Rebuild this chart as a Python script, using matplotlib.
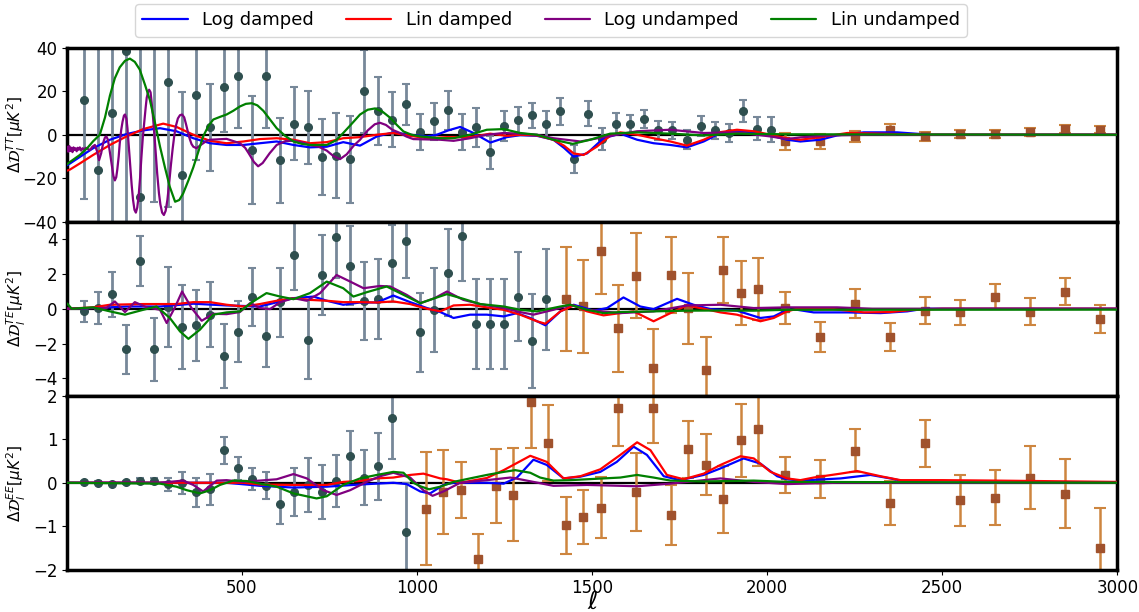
import matplotlib
matplotlib.use("Agg")
import matplotlib.pyplot as plt

# ---------------- data: binned residuals ----------------
# TT, low-l (grey dots)
tt_lo_ell = [50, 90, 130, 170, 210, 250, 290, 330, 370, 410, 450, 490, 530, 570, 610,
             650, 690, 730, 770, 810, 850, 890, 930, 970, 1010, 1050, 1090, 1130, 1170,
             1210, 1250, 1290, 1330, 1370, 1410, 1450, 1490, 1530, 1570, 1610, 1650,
             1690, 1730, 1770, 1810, 1850, 1890, 1930, 1970, 2010]
tt_lo_val = [16.0, -16.4, 9.8, 38.5, -28.5, 45.0, 24.4, -18.4, 18.2, 3.4, 22.1, 27.1, -7.0,
             26.8, -11.7, 5.1, 3.4, -10.1, -9.7, -11.2, 19.9, 10.9, 7.0, 14.0, 1.2, 6.2,
             11.2, 1.2, 3.4, -8.1, 3.9, 6.7, 9.0, 5.1, 10.9, -11.2, 9.7, -1.9, 5.1, 5.1,
             7.2, 2.0, 2.0, -2.3, 3.9, 2.0, 0.8, 10.9, 2.8, 2.3]
tt_lo_err = [45.6, 56, 55, 80, 70, 75.8, 57.6, 38.2, 30, 20, 21, 24, 25, 23.7, 19.5,
             16.7, 16.7, 17.4, 19.5, 20, 19, 15.6, 12.5, 9.5, 8.4, 8.6, 9, 8.4, 8.9,
             7.6, 6.9, 6.1, 5.8, 6.0, 6.2, 6.4, 5.6, 4.9, 4.7, 4.2, 4.0, 4.2, 4.0, 4.3,
             4.5, 4.0, 4.3, 5.0, 5.3, 5.8]
# TT, high-l (brown squares)
tt_hi_ell = [2050, 2150, 2250, 2350, 2450, 2550, 2650, 2750, 2850, 2950]
tt_hi_val = [-3.1, -3.1, -0.8, 2.3, -0.8, 0.3, 0.3, 1.2, 2.6, 2.3]
tt_hi_err = [3.9, 3.6, 2.6, 2.5, 2.1, 2.0, 2.0, 1.9, 1.9, 1.7]

# TE
te_lo_ell = [50, 90, 130, 170, 210, 250, 290, 330, 370, 410, 450, 490, 530, 570, 610,
             650, 690, 730, 770, 810, 850, 890, 930, 970, 1010, 1050, 1090, 1130, 1170,
             1210, 1250, 1290, 1330, 1370]
te_lo_val = [-0.15, 0.04, 0.82, -2.34, 2.74, -2.34, 0.1, -1.05, -0.95, -0.34, -2.7, -1.31,
             0.67, -1.54, 0.36, 3.09, -1.77, 1.94, 4.13, 2.46, 0.42, 0.57, 2.61, 3.9,
             -1.35, -0.06, 2.08, 4.19, -0.88, -0.88, -0.88, 0.7, -1.87, 0.55]
te_lo_err = [0.6, 0.9, 1.3, 1.43, 1.46, 1.8, 2.3, 2.4, 2.05, 1.85, 1.83, 1.73, 1.67, 1.8,
             2.0, 2.0, 2.27, 2.3, 2.34, 2.27, 2.24, 2.3, 2.23, 2.13, 2.26, 2.4, 2.5, 2.57,
             2.6, 2.6, 2.6, 2.57, 2.7, 2.9]
te_hi_ell = [1425, 1475, 1525, 1575, 1625, 1675, 1725, 1775, 1825, 1875, 1925, 1975,
             2050, 2150, 2250, 2350, 2450, 2550, 2650, 2750, 2850, 2950]
te_hi_val = [0.57, 0.13, 3.31, -1.12, 1.89, -3.39, 1.92, 0.04, -3.52, 2.23, 0.9, 1.12,
             0.04, -1.62, 0.29, -1.62, -0.11, -0.21, 0.7, -0.17, 0.99, -0.61]
te_hi_err = [3.0, 2.69, 2.47, 2.5, 2.45, 2.23, 2.19, 2.04, 1.9, 1.89, 1.83, 1.79,
             0.91, 0.86, 0.82, 0.79, 0.76, 0.73, 0.7, 0.78, 0.78, 0.81]

# EE
ee_lo_ell = [50, 90, 130, 170, 210, 250, 290, 330, 370, 410, 450, 490, 530, 570, 610,
             650, 690, 730, 770, 810, 850, 890, 930, 970]
ee_lo_val = [0.02, 0.0, -0.03, 0.01, 0.05, 0.04, -0.03, 0.0, -0.22, -0.15, 0.75, 0.33,
             0.08, -0.07, -0.49, -0.21, -0.05, -0.22, 0.04, 0.61, 0.12, 0.38, 1.48, -1.13]
ee_lo_err = [0.03, 0.03, 0.03, 0.04, 0.05, 0.07, 0.15, 0.25, 0.33, 0.36, 0.31, 0.27,
             0.25, 0.31, 0.45, 0.56, 0.63, 0.62, 0.59, 0.59, 0.64, 0.77, 0.94, 1.12]
ee_hi_ell = [1025, 1075, 1125, 1175, 1225, 1275, 1325, 1375, 1425, 1475, 1525, 1575,
             1625, 1675, 1725, 1775, 1825, 1875, 1925, 1975,
             2050, 2150, 2250, 2350, 2450, 2550, 2650, 2750, 2850, 2950]
ee_hi_val = [-0.6, -0.21, -0.17, -1.75, -0.08, -0.28, 1.86, 0.92, -0.98, -0.78, -0.57,
             1.71, -0.22, 1.72, -0.74, 0.77, 0.41, -0.38, 0.98, 1.23,
             0.18, 0.08, 0.74, -0.46, 0.91, -0.4, -0.34, 0.12, -0.25, -1.49]
ee_hi_err = [1.3, 0.97, 0.64, 0.58, 0.85, 1.07, 1.07, 0.87, 0.65, 0.62, 0.71, 0.87,
             0.9, 0.8, 0.7, 0.66, 0.7, 0.77, 0.84, 0.84,
             0.41, 0.44, 0.49, 0.51, 0.54, 0.59, 0.64, 0.72, 0.8, 0.9]

# ---------------- model curves ----------------
# TT
tt_logd_ell = [2, 10, 40, 76, 124, 171, 219, 267, 314, 362, 410, 457, 505, 552, 600, 648, 695,
               743, 790, 838, 886, 933, 981, 1029, 1057, 1090, 1124, 1162, 1210, 1257,
               1295, 1343, 1390, 1420, 1448, 1486, 1533, 1581, 1629, 1676, 1724, 1771,
               1819, 1867, 1914, 1962, 2010, 2057, 2095, 2152, 2200, 2276, 2371, 2467, 3000]
tt_logd = [-14.0, -13.2, -10.0, -6.2, -2.3, 0.3, 2.0, 3.0, 1.6, -1.6, -3.9, -4.7, -4.7, -3.9,
           -3.1, -4.7, -5.8, -5.5, -3.4, -5.0, -0.8, 1.1, 0.0, -0.8, 0.0, 2.0, 3.6, 0.8,
           -3.6, -1.1, -0.2, -0.5, -2.3, -6.0, -10.1, -8.6, -1.6, 0.5, -2.3, -3.9, -4.7,
           -5.8, -3.1, 0.8, 1.6, 1.1, -0.3, -2.3, -3.1, -2.3, -0.3, 1.1, 1.1, 0.0, 0.0]

tt_lind_ell = [2, 10, 40, 76, 124, 171, 219, 276, 314, 362, 410, 457, 505, 552, 600, 648, 695,
               743, 790, 838, 886, 933, 981, 1029, 1086, 1152, 1210, 1257, 1295, 1343,
               1390, 1420, 1448, 1476, 1514, 1552, 1581, 1629, 1676, 1724, 1771, 1819,
               1867, 1914, 1962, 2010, 2057, 2095, 2152, 2229, 2324, 2450, 3000]
tt_lind = [-16.5, -16.0, -13.0, -9.3, -4.7, -0.8, 2.6, 5.1, 3.6, 0.0, -2.8, -3.9, -3.1, -2.0,
           -1.6, -2.3, -3.9, -3.4, -1.6, -1.1, 0.0, 0.8, -0.5, -1.6, -1.1, -1.1, 0.5,
           -0.5, 0.0, -0.3, -2.3, -5.0, -8.6, -9.3, -5.5, -0.5, 1.1, 0.0, -1.6, -3.1,
           -5.0, -2.3, 1.2, 2.3, 1.6, 0.0, -1.6, -2.3, -1.1, 0.8, 0.5, 0.0, 0.0]

tt_logu_ell = [2, 5, 8, 11, 14, 17, 20, 23, 26, 29, 32, 35, 38, 42, 46, 50, 55, 60, 67,
               74, 81, 87, 93, 99, 103, 106, 110, 114, 118, 121, 126, 130, 134, 138, 142,
               145, 149, 152, 156, 160, 164, 167, 171, 174, 178, 182, 186, 190, 194, 198,
               202, 206, 210, 214, 218, 222, 226, 229, 233, 236, 240, 243, 247, 251, 255,
               259, 264, 268, 273, 278, 283, 288, 293, 298, 303, 308, 313, 318, 324, 330,
               336, 341, 347, 352, 357, 362, 371, 385, 400, 410, 457, 495, 510, 520, 535,
               547, 560, 580, 600, 625, 648, 672, 695, 720, 743, 762, 781, 800, 820, 838,
               860, 880, 895, 912, 930, 952, 970, 990, 1067, 1105, 1152, 1200, 1248, 1295,
               1343, 1390, 1467, 1533, 1581, 1629, 1724, 1819, 1914, 2010, 2057, 2095,
               2181, 2300, 3000]
tt_logu = [-5.5, -7.8, -5.2, -7.5, -6.0, -8.0, -5.8, -7.0, -6.2, -7.6, -6.0, -6.9, -5.8,
           -7.3, -6.2, -6.8, -6.0, -6.5, -7.0, -5.5, -4.7, -7.5, -11.7, -8.5, -5.2, -3.0,
           -1.2, -0.8, -2.2, -5.0, -10.5, -15.0, -19.0, -21.0, -19.5, -16.0, -10.0, -4.0,
           2.0, 6.0, 8.8, 9.3, 7.5, 3.0, -5.5, -14.0, -23.0, -30.0, -34.5, -35.8, -33.5,
           -28.0, -20.0, -10.0, -1.0, 6.0, 12.5, 17.0, 19.8, 20.7, 19.5, 15.0, 8.0, 0.0,
           -9.0, -18.0, -27.0, -32.0, -35.8, -36.9, -35.0, -30.0, -22.5, -14.0, -6.5, 0.0,
           4.5, 7.5, 9.0, 9.3, 8.0, 5.0, 1.0, -2.0, -4.3, -5.5, -6.2, -4.5, -2.8, -2.3,
           -1.9, -3.9, -6.0, -8.5, -12.5, -14.5, -13.0, -8.5, -4.7, -2.9, -2.8, -3.5,
           -4.7, -5.5, -7.3, -9.8, -11.2, -9.0, -5.0, -2.3, 2.0, 4.8, 5.5, 4.5, 2.3, 0.8,
           -0.8, -2.0, -2.3, -2.8, -1.6, 0.0, 0.8, 0.5, 0.0, -1.6, -3.1, -1.1, 0.3, 1.6,
           2.3, 0.8, 1.1, -0.8, -2.0, -1.2, -0.3, 0.0, 0.0]

tt_linu_ell = [2, 10, 38, 60, 76, 95, 110, 124, 138, 152, 167, 181, 195, 209, 224, 238,
               252, 267, 281, 295, 310, 322, 333, 348, 362, 376, 390, 405, 419, 438, 457,
               476, 495, 512, 529, 545, 562, 581, 600, 624, 648, 672, 695, 743, 770, 790,
               814, 838, 860, 881, 903, 924, 943, 962, 985, 1010, 1067, 1105, 1152, 1200,
               1248, 1295, 1343, 1390, 1445, 1495, 1552, 1629, 1724, 1819, 1914, 2057, 3000]
tt_linu = [-13.5, -12.5, -9.3, -6.0, -3.0, 0.0, 8.0, 18.0, 26.0, 31.0, 34.0, 35.0, 33.5,
           30.0, 23.0, 16.0, 6.0, -5.5, -15.0, -24.0, -30.8, -30.0, -27.0, -21.0, -15.0,
           -8.0, -0.8, 4.0, 7.0, 8.2, 9.3, 11.0, 13.0, 14.2, 14.5, 13.5, 11.0, 7.0, 3.0,
           -0.5, -3.1, -4.2, -4.7, -4.7, -2.5, 0.8, 5.0, 9.3, 11.5, 12.1, 10.5, 7.8, 4.5,
           1.5, 0.0, -0.8, -1.6, -1.6, 0.0, 2.3, 2.6, 0.8, 0.0, -2.3, -4.2, -2.3, 0.5,
           1.1, 0.5, -0.3, 0.5, 0.2, 0.0]

# TE
te_logd_ell = [2, 57, 124, 171, 267, 362, 457, 552, 648, 705, 743, 790, 838, 886, 933,
               981, 1029, 1067, 1105, 1152, 1200, 1248, 1286, 1324, 1367, 1410, 1448,
               1505, 1543, 1590, 1638, 1676, 1743, 1790, 1838, 1914, 1981, 2019, 2057,
               2086, 2133, 2229, 2324, 2400, 2448, 3000]
te_logd = [0.0, 0.04, 0.08, 0.13, 0.13, 0.29, 0.19, 0.13, 0.61, 0.7, 0.46, 0.23, 0.36,
           0.36, 0.76, 0.38, 0.04, -0.19, -0.53, -0.34, -0.34, -0.44, -0.25, -0.53, -0.95,
           -0.15, 0.23, -0.11, 0.04, 0.65, 0.13, -0.02, 0.57, 0.23, -0.02, -0.11, -0.53,
           -0.44, -0.06, -0.06, -0.21, -0.21, -0.25, -0.15, 0.0, 0.0]

te_lind_ell = [2, 76, 124, 219, 314, 362, 410, 457, 505, 552, 600, 648, 695, 743, 790,
               838, 886, 933, 981, 1029, 1067, 1105, 1152, 1200, 1248, 1295, 1343, 1367,
               1410, 1448, 1486, 1533, 1581, 1619, 1676, 1724, 1771, 1819, 1867, 1914,
               1981, 2019, 2057, 2086, 2181, 2276, 2352, 2419, 2500, 3000]
te_lind = [0.0, 0.08, 0.23, 0.27, 0.27, 0.38, 0.38, 0.23, 0.13, 0.27, 0.46, 0.61, 0.51,
           0.46, 0.38, 0.38, 0.36, 0.42, 0.27, 0.0, -0.15, 0.19, 0.23, 0.08, -0.06, -0.34,
           -0.72, -0.86, -0.15, 0.19, -0.15, -0.38, -0.25, -0.15, -0.72, -0.25, 0.19, 0.0,
           -0.21, -0.34, -0.72, -0.53, -0.15, 0.0, 0.0, -0.21, -0.19, -0.06, 0.0, 0.0]

te_logu_ell = [2, 76, 114, 138, 167, 195, 229, 267, 286, 310, 330, 357, 386, 419, 457,
               495, 524, 552, 581, 610, 648, 686, 724, 771, 810, 848, 895, 924, 971, 1010,
               1050, 1086, 1133, 1181, 1248, 1295, 1333, 1390, 1438, 1486, 1581, 1676,
               1771, 1867, 1962, 2057, 2200, 2300, 3000]
te_logu = [0.0, 0.04, 0.04, 0.42, -0.19, 0.38, 0.08, -0.06, -0.82, 0.1, 0.99, 0.04,
           -0.69, -0.29, -0.31, -0.19, 0.32, 0.04, -0.02, 0.38, 0.61, 0.46, 0.9, 1.94,
           1.56, 1.18, 1.31, 1.28, 0.8, 0.32, 0.6, 0.99, 0.51, 0.27, 0.04, -0.19, -0.34,
           -0.06, 0.23, -0.06, -0.25, -0.15, 0.19, 0.23, 0.04, 0.08, 0.08, 0.0, 0.0]

te_linu_ell = [2, 15, 76, 124, 167, 219, 257, 295, 324, 348, 381, 419, 457, 495, 533,
               571, 610, 648, 695, 743, 790, 819, 857, 914, 962, 1010, 1050, 1086, 1133,
               1181, 1248, 1295, 1343, 1410, 1438, 1486, 1533, 1581, 1676, 1771, 1867,
               1962, 2057, 3000]
te_linu = [0.3, 0.0, 0.08, -0.15, -0.34, -0.06, 0.13, -0.53, -1.3, -1.73, -1.2, -0.34,
           -0.21, -0.15, 0.42, 0.9, 0.7, 0.55, 0.9, 1.56, 1.18, 0.7, 0.95, 1.28, 0.8, 0.32,
           0.6, 0.84, 0.57, 0.27, 0.13, -0.06, -0.15, 0.13, 0.23, -0.06, -0.25, -0.19,
           -0.15, -0.11, -0.1, -0.11, -0.06, -0.05]

# EE
ee_logd_ell = [2, 457, 552, 648, 743, 838, 933, 971, 1010, 1038, 1076, 1105, 1200, 1248,
               1286, 1333, 1371, 1419, 1467, 1524, 1571, 1619, 1657, 1705, 1752, 1819,
               1867, 1933, 1981, 2029, 2057, 2095, 2210, 2295, 2352, 2400, 2500, 3000]
ee_logd = [0.0, 0.0, -0.07, -0.11, -0.09, -0.04, 0.0, -0.03, -0.2, -0.245, -0.05, 0.0,
           0.0, -0.02, 0.12, 0.53, 0.41, 0.1, 0.14, 0.25, 0.48, 0.83, 0.64, 0.15, 0.06,
           0.18, 0.33, 0.56, 0.44, 0.15, 0.08, 0.05, 0.1, 0.18, 0.1, 0.02, 0.0, 0.0]

ee_lind_ell = [2, 505, 552, 648, 743, 790, 838, 886, 933, 981, 1019, 1067, 1086, 1124,
               1200, 1248, 1324, 1371, 1419, 1467, 1524, 1581, 1629, 1667, 1714, 1762,
               1819, 1867, 1924, 1962, 2010, 2057, 2095, 2133, 2210, 2257, 2324, 2381,
               2500, 2650, 3000]
ee_lind = [0.0, 0.0, -0.04, -0.05, -0.05, 0.02, 0.04, 0.1, 0.12, 0.18, 0.21, 0.1, 0.08,
           0.0, 0.11, 0.29, 0.62, 0.48, 0.1, 0.15, 0.31, 0.64, 0.93, 0.75, 0.18, 0.08,
           0.21, 0.41, 0.61, 0.56, 0.25, 0.1, 0.06, 0.12, 0.21, 0.27, 0.15, 0.06, 0.06,
           0.05, 0.02]

ee_logu_ell = [2, 267, 333, 362, 390, 429, 457, 505, 552, 600, 648, 686, 733, 771, 810,
               857, 895, 933, 981, 1020, 1045, 1076, 1124, 1200, 1267, 1295, 1390, 1486,
               1629, 1724, 1867, 1962, 2057, 2200, 3000]
ee_logu = [0.0, 0.0, 0.05, -0.05, -0.2, 0.05, 0.06, 0.02, 0.05, 0.08, 0.2, 0.1, -0.17,
           -0.28, -0.17, 0.02, 0.15, 0.23, 0.12, -0.18, -0.3, -0.2, 0.0, 0.06, 0.12, 0.08,
           -0.07, -0.05, -0.08, -0.02, 0.1, 0.02, -0.03, 0.0, 0.0]

ee_linu_ell = [2, 267, 314, 343, 381, 410, 438, 476, 514, 552, 600, 648, 714, 743, 790,
               838, 886, 933, 962, 990, 1010, 1035, 1067, 1105, 1152, 1200, 1248, 1281,
               1324, 1352, 1390, 1438, 1533, 1581, 1629, 1676, 1724, 1819, 1962, 2057, 3000]
ee_linu = [0.0, -0.02, -0.09, -0.17, -0.245, -0.17, -0.05, 0.05, 0.04, -0.02, -0.09,
           -0.245, -0.36, -0.31, -0.05, 0.1, 0.18, 0.25, 0.23, 0.0, -0.08, -0.15, -0.09,
           0.02, 0.1, 0.18, 0.25, 0.29, 0.23, 0.12, 0.05, 0.06, 0.1, 0.12, 0.18, 0.12,
           0.05, 0.03, 0.05, 0.02, 0.0]

# ---------------- plotting ----------------
fig, axes = plt.subplots(3, 1, figsize=(11.39, 6.12), dpi=100, sharex=True)
fig.subplots_adjust(left=0.059, right=0.981, top=0.922, bottom=0.069, hspace=0)

panels = [
    (tt_lo_ell, tt_lo_val, tt_lo_err, tt_hi_ell, tt_hi_val, tt_hi_err,
     [(tt_logd_ell, tt_logd), (tt_lind_ell, tt_lind), (tt_logu_ell, tt_logu), (tt_linu_ell, tt_linu)],
     (-40, 40), [-40, -20, 0, 20, 40], r'$\Delta\mathcal{D}_l^{TT}[\mu K^2]$'),
    (te_lo_ell, te_lo_val, te_lo_err, te_hi_ell, te_hi_val, te_hi_err,
     [(te_logd_ell, te_logd), (te_lind_ell, te_lind), (te_logu_ell, te_logu), (te_linu_ell, te_linu)],
     (-5, 5), [-4, -2, 0, 2, 4], r'$\Delta\mathcal{D}_l^{TE}[\mu K^2]$'),
    (ee_lo_ell, ee_lo_val, ee_lo_err, ee_hi_ell, ee_hi_val, ee_hi_err,
     [(ee_logd_ell, ee_logd), (ee_lind_ell, ee_lind), (ee_logu_ell, ee_logu), (ee_linu_ell, ee_linu)],
     (-2, 2), [-2, -1, 0, 1, 2], r'$\Delta\mathcal{D}_l^{EE}[\mu K^2]$'),
]

labels = ['Log damped', 'Lin damped', 'Log undamped', 'Lin undamped']
colors = ['blue', 'red', 'purple', 'green']

for ax, (le, lv, lerr, he, hv, herr, curves, ylim, yticks, ylab) in zip(axes, panels):
    ax.errorbar(le, lv, yerr=lerr, fmt='o', color='darkslategray', ecolor='lightslategray',
                elinewidth=2, capsize=3, capthick=1.5, markersize=5.5, zorder=2)
    ax.errorbar(he, hv, yerr=herr, fmt='s', color='sienna', ecolor='peru',
                elinewidth=1.8, capsize=4, capthick=1.5, markersize=5.5, zorder=2)
    ax.axhline(0, color='black', lw=1.6, zorder=1)
    for (ce, cv), c, lab in zip(curves, colors, labels):
        ax.plot(ce, cv, color=c, lw=1.6, label=lab, zorder=3,
                solid_joinstyle='round', solid_capstyle='round')
    ax.set_ylim(*ylim)
    ax.set_yticks(yticks)
    ax.set_ylabel(ylab, fontsize=11)
    ax.yaxis.set_label_coords(-0.037, 0.5)
    ax.tick_params(labelsize=12)
    for s in ax.spines.values():
        s.set_linewidth(2.5)

axes[0].set_xlim(2, 3000)
axes[2].set_xticks([500, 1000, 1500, 2000, 2500, 3000])
axes[2].set_xlabel(r'$\ell$', fontsize=18)
axes[2].xaxis.set_label_coords(0.5, -0.115)

handles, labs = axes[0].get_legend_handles_labels()
fig.legend(handles, labs, loc='upper center', ncol=4, fontsize=13,
           bbox_to_anchor=(0.4838, 1.008), handlelength=2.5, columnspacing=1.8,
           borderpad=0.4)

fig.savefig('out.png', dpi=100)
